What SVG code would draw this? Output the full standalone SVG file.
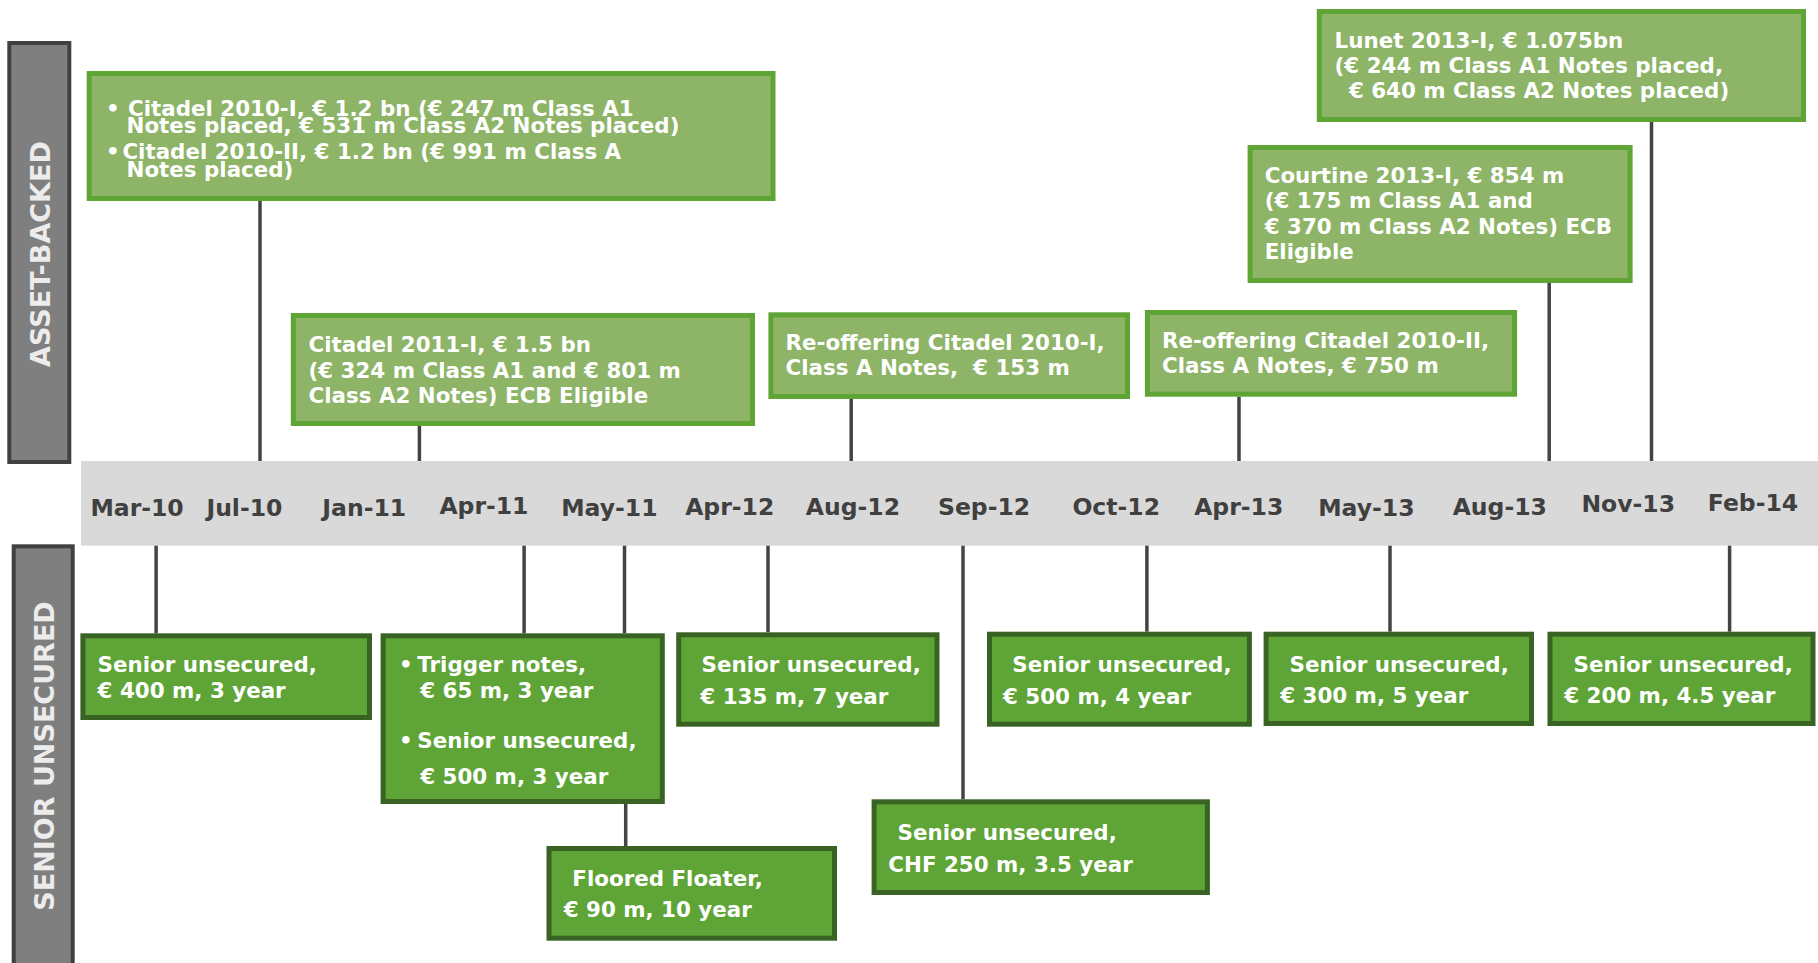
<svg xmlns="http://www.w3.org/2000/svg" width="1818" height="963" viewBox="0 0 1818 963">
<style>
.side{fill:#7f7f7f;stroke:#404040;stroke-width:4}
.sidet{font-family:"DejaVu Sans",Verdana,sans-serif;font-weight:bold;font-size:27px;fill:#ececec;text-anchor:middle}
.ab{fill:#8db467;stroke:#5ea535;stroke-width:5}
.su{fill:#5fa437;stroke:#386322;stroke-width:5}
.t{font-family:"DejaVu Sans",Verdana,sans-serif;font-weight:bold;font-size:21.4px;fill:#ffffff}
.lbl{font-family:"DejaVu Sans",Verdana,sans-serif;font-weight:bold;font-size:23.5px;fill:#404040}
.c{stroke:#444444;stroke-width:3.5;fill:none}
</style>
<rect x="0" y="0" width="1818" height="963" fill="#ffffff"/>
<g id="side-asset">
<rect class="side" x="9.3" y="43" width="60" height="419"/>
<text class="sidet" transform="translate(50,254) rotate(-90)">ASSET-BACKED</text>
</g>
<g id="side-senior">
<rect class="side" x="13.7" y="546.3" width="59" height="430"/>
<text class="sidet" transform="translate(54,756) rotate(-90)">SENIOR UNSECURED</text>
</g>
<g id="timeline">
<rect x="81" y="461" width="1737" height="84.7" fill="#d9d9d9"/>
<text class="lbl" x="90.4" y="516">Mar-10</text>
<text class="lbl" x="206.4" y="516">Jul-10</text>
<text class="lbl" x="322.3" y="516">Jan-11</text>
<text class="lbl" x="439.4" y="514">Apr-11</text>
<text class="lbl" x="561.2" y="516">May-11</text>
<text class="lbl" x="685.2" y="515">Apr-12</text>
<text class="lbl" x="805.8" y="515">Aug-12</text>
<text class="lbl" x="938" y="515">Sep-12</text>
<text class="lbl" x="1072.4" y="515">Oct-12</text>
<text class="lbl" x="1194.2" y="515">Apr-13</text>
<text class="lbl" x="1318.2" y="516">May-13</text>
<text class="lbl" x="1452.7" y="515">Aug-13</text>
<text class="lbl" x="1581.4" y="512">Nov-13</text>
<text class="lbl" x="1707.8" y="511">Feb-14</text>
</g>
<g id="connectors">
<line class="c" x1="260" y1="201" x2="260" y2="461"/>
<line class="c" x1="419.4" y1="426" x2="419.4" y2="461"/>
<line class="c" x1="851.2" y1="399" x2="851.2" y2="461"/>
<line class="c" x1="1239" y1="396.7" x2="1239" y2="461"/>
<line class="c" x1="1549.2" y1="283" x2="1549.2" y2="461"/>
<line class="c" x1="1651.5" y1="122" x2="1651.5" y2="461"/>
<line class="c" x1="156.1" y1="545.7" x2="156.1" y2="633.3"/>
<line class="c" x1="524.1" y1="545.7" x2="524.1" y2="633.3"/>
<line class="c" x1="624.5" y1="545.7" x2="624.5" y2="633.3"/>
<line class="c" x1="768" y1="545.7" x2="768" y2="632.3"/>
<line class="c" x1="963" y1="545.7" x2="963" y2="799.3"/>
<line class="c" x1="1146.9" y1="545.7" x2="1146.9" y2="631.7"/>
<line class="c" x1="1390" y1="545.7" x2="1390" y2="631.7"/>
<line class="c" x1="1729.6" y1="545.7" x2="1729.6" y2="631.7"/>
<line class="c" x1="625.7" y1="804" x2="625.7" y2="846"/>
</g>
<g id="citadel-2010">
<rect class="ab" x="89.2" y="73.5" width="683.8" height="125"/>
<text class="t" x="106" y="115.5">•</text>
<text class="t" x="128" y="115.5">Citadel 2010-I, € 1.2 bn (€ 247 m Class A1</text>
<text class="t" x="126.5" y="133">Notes placed, € 531 m Class A2 Notes placed)</text>
<text class="t" x="106" y="159">•</text>
<text class="t" x="122.4" y="159">Citadel 2010-II, € 1.2 bn (€ 991 m Class A</text>
<text class="t" x="126.5" y="176.5">Notes placed)</text>
</g>
<g id="citadel-2011">
<rect class="ab" x="293.3" y="315.5" width="459.2" height="108"/>
<text class="t" x="308.5" y="352">Citadel 2011-I, € 1.5 bn</text>
<text class="t" x="308.5" y="378">(€ 324 m Class A1 and € 801 m</text>
<text class="t" x="308.5" y="403">Class A2 Notes) ECB Eligible</text>
</g>
<g id="reoffer-2010-i">
<rect class="ab" x="770.9" y="314.8" width="356.6" height="81.7"/>
<text class="t" x="785.6" y="350">Re-offering Citadel 2010-I,</text>
<text class="t" x="785.6" y="375">Class A Notes, &#160;€ 153 m</text>
</g>
<g id="reoffer-2010-ii">
<rect class="ab" x="1147.4" y="312.5" width="367.2" height="81.7"/>
<text class="t" x="1162" y="348.3">Re-offering Citadel 2010-II,</text>
<text class="t" x="1162" y="372.7">Class A Notes, € 750 m</text>
</g>
<g id="courtine-2013">
<rect class="ab" x="1250.1" y="147.5" width="380" height="133"/>
<text class="t" x="1264.7" y="183.3">Courtine 2013-I, € 854 m</text>
<text class="t" x="1264.7" y="208.3">(€ 175 m Class A1 and</text>
<text class="t" x="1264.7" y="234">€ 370 m Class A2 Notes) ECB</text>
<text class="t" x="1264.7" y="259.3">Eligible</text>
</g>
<g id="lunet-2013">
<rect class="ab" x="1319.3" y="11.5" width="484.2" height="108"/>
<text class="t" x="1334.6" y="48.3">Lunet 2013-I, € 1.075bn</text>
<text class="t" x="1334.6" y="72.7">(€ 244 m Class A1 Notes placed,</text>
<text class="t" x="1348.9" y="98.3">€ 640 m Class A2 Notes placed)</text>
</g>
<g id="su-mar10">
<rect class="su" x="82.9" y="635.8" width="286.6" height="81.7"/>
<text class="t" x="97.6" y="671.7">Senior unsecured,</text>
<text class="t" x="97.6" y="697.7">€ 400 m, 3 year</text>
</g>
<g id="su-apr11">
<rect class="su" x="383.1" y="635.8" width="279.2" height="165.7"/>
<text class="t" x="399" y="671.7">•</text>
<text class="t" x="417.3" y="671.7">Trigger notes,</text>
<text class="t" x="420.2" y="697.7">€ 65 m, 3 year</text>
<text class="t" x="399" y="748.3">•</text>
<text class="t" x="417.3" y="748.3">Senior unsecured,</text>
<text class="t" x="420.2" y="784.3">€ 500 m, 3 year</text>
</g>
<g id="su-may11">
<rect class="su" x="549" y="848.5" width="285.5" height="89.7"/>
<text class="t" x="572.3" y="886">Floored Floater,</text>
<text class="t" x="563.7" y="917.3">€ 90 m, 10 year</text>
</g>
<g id="su-apr12">
<rect class="su" x="678.7" y="634.8" width="258.3" height="89.4"/>
<text class="t" x="701.5" y="672.3">Senior unsecured,</text>
<text class="t" x="700.3" y="704">€ 135 m, 7 year</text>
</g>
<g id="su-sep12">
<rect class="su" x="874.1" y="801.8" width="333.3" height="90.7"/>
<text class="t" x="897.5" y="840">Senior unsecured,</text>
<text class="t" x="888.3" y="872.3">CHF 250 m, 3.5 year</text>
</g>
<g id="su-oct12">
<rect class="su" x="989.5" y="634.2" width="259.9" height="90"/>
<text class="t" x="1012.3" y="672.3">Senior unsecured,</text>
<text class="t" x="1003" y="704">€ 500 m, 4 year</text>
</g>
<g id="su-may13">
<rect class="su" x="1266.1" y="634.2" width="265.4" height="89.3"/>
<text class="t" x="1289.5" y="671.7">Senior unsecured,</text>
<text class="t" x="1280.2" y="703.3">€ 300 m, 5 year</text>
</g>
<g id="su-feb14">
<rect class="su" x="1550" y="634.2" width="263" height="89.3"/>
<text class="t" x="1573.5" y="671.7">Senior unsecured,</text>
<text class="t" x="1564.2" y="703.3">€ 200 m, 4.5 year</text>
</g>
</svg>
